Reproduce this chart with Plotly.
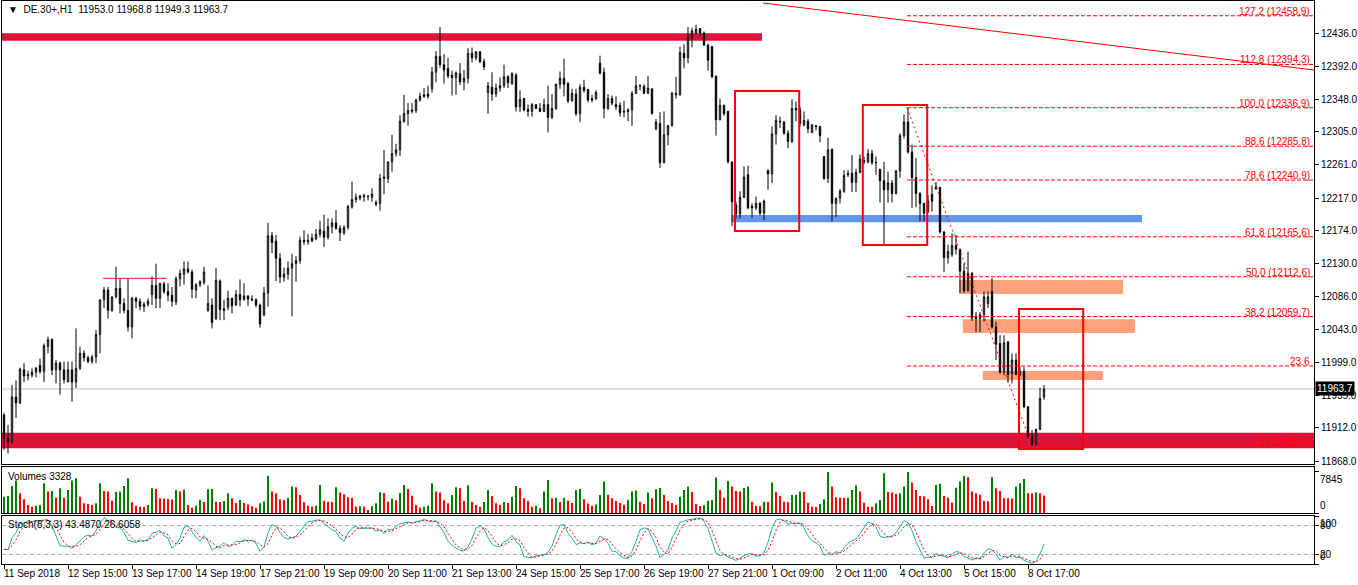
import numpy as np
import plotly.graph_objects as go
from plotly.subplots import make_subplots

# ---------------- data (DE.30+, H1, 11 Sep 13:00 .. 8 Oct 21:00, 14 bars/day) ----------------
opens = [11929, 11898, 11894, 11953, 11945, 11989, 11981, 11982, 11986,
         11995, 11987, 12020, 12029, 11989, 11998, 11989, 11973, 11989, 11973, 11991, 12011, 12005, 12000,
         12006, 12036, 12082, 12095, 12068, 12086, 12097, 12077, 12068, 12046, 12084, 12080, 12073, 12076,
         12089, 12101, 12084, 12103, 12093, 12088, 12079, 12110, 12116, 12123, 12119, 12095, 12102, 12105,
         12068, 12075, 12057, 12107, 12070, 12072, 12084, 12075, 12089, 12082, 12087, 12083, 12082, 12075,
         12062, 12091, 12167, 12160, 12137, 12112, 12116, 12124, 12130, 12134, 12161, 12159, 12160, 12163,
         12169, 12173, 12165, 12179, 12184, 12177, 12171, 12178, 12205, 12215, 12217, 12220, 12219, 12218,
         12211, 12210, 12243, 12243, 12265, 12276, 12281, 12318, 12329, 12332, 12333, 12347, 12354, 12355,
         12362, 12384, 12405, 12394, 12389, 12380, 12377, 12382, 12371, 12376, 12409, 12403, 12411, 12398,
         12357, 12364, 12355, 12363, 12366, 12378, 12369, 12380, 12338, 12349, 12335, 12332, 12341, 12336,
         12332, 12341, 12324, 12336, 12368, 12376, 12369, 12346, 12355, 12329, 12364, 12361, 12349, 12349,
         12396, 12384, 12336, 12349, 12341, 12340, 12331, 12334, 12334, 12356, 12366, 12365, 12356, 12362,
         12309, 12316, 12264, 12301, 12313, 12354, 12354, 12409, 12403, 12430, 12436, 12442, 12436, 12420,
         12418, 12379, 12321, 12340, 12332, 12265, 12208, 12196, 12218, 12248, 12206, 12204, 12210, 12197,
         12254, 12249, 12302, 12319, 12318, 12303, 12292, 12336, 12334, 12314, 12319, 12304, 12313, 12312,
         12272, 12243, 12282, 12210, 12217, 12226, 12248, 12250, 12238, 12251, 12267, 12265, 12276, 12264,
         12255, 12240, 12228, 12237, 12223, 12253, 12300, 12318, 12278, 12244, 12223, 12210, 12199, 12222,
         12229, 12231, 12172, 12138, 12142, 12154, 12149, 12120, 12094, 12117, 12060, 12057, 12062, 12077,
         12093, 12046, 12024, 11986, 12026, 11984, 12002, 11983, 11987, 11940, 11901, 11890, 11910, 11953.0]

highs = [11932, 11916, 11969, 11975, 11992, 11998, 11988, 11991, 11993,
         12004, 12024, 12033, 12031, 12002, 12000, 12000, 12000, 12000, 12044, 12020, 12015, 12008, 12009,
         12042, 12082, 12099, 12099, 12086, 12126, 12110, 12084, 12110, 12086, 12086, 12084, 12079, 12084,
         12113, 12130, 12104, 12106, 12104, 12099, 12113, 12122, 12133, 12133, 12122, 12104, 12108, 12126,
         12101, 12084, 12124, 12109, 12082, 12094, 12085, 12095, 12109, 12104, 12088, 12088, 12084, 12077,
         12099, 12184, 12172, 12168, 12144, 12125, 12133, 12143, 12140, 12166, 12174, 12169, 12170, 12176,
         12187, 12195, 12190, 12190, 12201, 12181, 12181, 12208, 12239, 12223, 12221, 12223, 12221, 12230,
         12214, 12249, 12281, 12265, 12301, 12289, 12327, 12354, 12343, 12343, 12349, 12357, 12363, 12366,
         12391, 12412, 12444, 12408, 12403, 12386, 12385, 12396, 12387, 12416, 12417, 12412, 12412, 12402,
         12371, 12384, 12369, 12377, 12394, 12380, 12384, 12383, 12360, 12350, 12341, 12343, 12341, 12343,
         12349, 12366, 12355, 12369, 12385, 12402, 12371, 12362, 12362, 12368, 12374, 12362, 12354, 12360,
         12406, 12390, 12355, 12353, 12352, 12344, 12346, 12336, 12359, 12379, 12368, 12368, 12379, 12362,
         12322, 12331, 12332, 12314, 12358, 12378, 12418, 12421, 12444, 12443, 12447, 12442, 12438, 12422,
         12418, 12379, 12349, 12341, 12333, 12265, 12212, 12226, 12259, 12260, 12210, 12219, 12212, 12215,
         12254, 12312, 12327, 12325, 12319, 12307, 12348, 12345, 12338, 12332, 12322, 12315, 12314, 12312,
         12272, 12297, 12282, 12217, 12229, 12254, 12254, 12274, 12256, 12275, 12272, 12282, 12281, 12272,
         12256, 12265, 12252, 12241, 12254, 12303, 12328, 12336.9, 12288, 12270, 12225, 12210, 12221, 12234,
         12238, 12232, 12173, 12155, 12170, 12168, 12149, 12130, 12146, 12119, 12066, 12066, 12093, 12093,
         12111, 12053, 12035, 12035, 12027, 12011, 12011, 11993, 11993, 11941, 11909, 11911, 11965, 11968.8]

lows = [11883, 11878, 11891, 11925, 11944, 11973, 11975, 11979, 11979,
        11984, 11973, 12011, 11982, 11971, 11956, 11971, 11973, 11947, 11965, 11989, 12000, 11998, 11997,
        11998, 12011, 12071, 12057, 12066, 12084, 12064, 12064, 12040, 12031, 12071, 12068, 12066, 12073,
        12075, 12071, 12071, 12090, 12080, 12073, 12075, 12100, 12102, 12117, 12084, 12084, 12099, 12102,
        12066, 12044, 12055, 12055, 12055, 12068, 12064, 12074, 12073, 12081, 12074, 12080, 12072, 12045,
        12060, 12073, 12144, 12107, 12104, 12106, 12109, 12060, 12106, 12130, 12155, 12155, 12159, 12161,
        12165, 12152, 12162, 12170, 12175, 12160, 12168, 12175, 12203, 12211, 12214, 12212, 12214, 12212,
        12206, 12200, 12222, 12237, 12252, 12272, 12273, 12318, 12313, 12329, 12330, 12345, 12350, 12349,
        12357, 12371, 12390, 12369, 12376, 12353, 12354, 12367, 12360, 12369, 12397, 12400, 12396, 12387,
        12329, 12346, 12351, 12358, 12363, 12363, 12367, 12332, 12331, 12332, 12325, 12325, 12335, 12331,
        12331, 12304, 12322, 12334, 12362, 12352, 12343, 12345, 12326, 12318, 12357, 12344, 12344, 12347,
        12381, 12323, 12334, 12340, 12334, 12325, 12324, 12319, 12313, 12355, 12360, 12355, 12355, 12328,
        12307, 12257, 12263, 12287, 12312, 12349, 12353, 12389, 12396, 12417, 12434, 12432, 12419, 12386,
        12376, 12300, 12320, 12326, 12263, 12180, 12190, 12190, 12217, 12202, 12191, 12201, 12194, 12188,
        12228, 12237, 12288, 12310, 12301, 12283, 12290, 12319, 12312, 12312, 12303, 12303, 12307, 12291,
        12241, 12237, 12186, 12192, 12210, 12224, 12245, 12225, 12225, 12250, 12262, 12263, 12261, 12248,
        12211, 12156, 12211, 12211, 12222, 12244, 12296, 12276, 12204, 12205, 12186, 12186, 12197, 12199,
        12228, 12170, 12119, 12130, 12139, 12142, 12091, 12091, 12093, 12054, 12039, 12039, 12053, 12071,
        12044, 12002, 11984, 11982, 11972, 11971, 11982, 11980, 11938, 11898, 11888.4, 11889, 11909, 11949.3]

closes = [11898, 11894, 11953, 11945, 11990, 11981, 11983, 11986, 11991,
          11987, 12021, 12029, 11989, 11998, 11989, 11976, 11989, 11973, 11991, 12011, 12005, 12000, 12006,
          12036, 12082, 12095, 12068, 12086, 12097, 12077, 12068, 12046, 12084, 12080, 12073, 12076, 12080,
          12101, 12084, 12104, 12093, 12088, 12080, 12110, 12117, 12123, 12119, 12096, 12102, 12106, 12119,
          12077, 12052, 12108, 12069, 12068, 12084, 12074, 12089, 12082, 12087, 12083, 12082, 12075, 12050,
          12091, 12167, 12158, 12137, 12112, 12116, 12124, 12130, 12134, 12161, 12159, 12161, 12164, 12169,
          12175, 12165, 12179, 12184, 12177, 12171, 12178, 12206, 12215, 12218, 12220, 12219, 12219, 12222,
          12209, 12243, 12245, 12265, 12276, 12281, 12319, 12329, 12333, 12334, 12347, 12352, 12352, 12352,
          12384, 12405, 12394, 12387, 12379, 12377, 12383, 12371, 12376, 12409, 12403, 12411, 12398, 12391,
          12366, 12355, 12363, 12366, 12378, 12370, 12382, 12338, 12348, 12334, 12332, 12341, 12336, 12332,
          12341, 12324, 12336, 12368, 12376, 12368, 12346, 12356, 12329, 12364, 12360, 12347, 12347, 12357,
          12383, 12336, 12349, 12343, 12338, 12330, 12332, 12332, 12356, 12366, 12366, 12356, 12363, 12329,
          12318, 12264, 12301, 12313, 12356, 12356, 12410, 12403, 12430, 12439, 12441, 12436, 12420, 12400,
          12378, 12321, 12340, 12329, 12265, 12212, 12196, 12218, 12245, 12204, 12204, 12210, 12197, 12213,
          12249, 12302, 12320, 12318, 12303, 12292, 12336, 12334, 12316, 12320, 12309, 12314, 12312, 12300,
          12243, 12281, 12210, 12217, 12226, 12247, 12250, 12238, 12251, 12269, 12265, 12276, 12264, 12264,
          12240, 12228, 12237, 12223, 12253, 12300, 12318, 12278, 12244, 12223, 12210, 12197, 12213, 12213,
          12232, 12172, 12138, 12146, 12154, 12149, 12120, 12094, 12117, 12058, 12057, 12062, 12086, 12086,
          12046, 12023, 11986, 12025, 11983, 12002, 11983, 11987, 11940, 11900, 11890, 11910, 11951, 11963.7]

volumes = [3120, 3250, 5170, 6190, 3760, 2610, 1530, 1210, 1400,
           1530, 5680, 4080, 4210, 2930, 4720, 2900, 4400, 6190, 6630, 3120, 1850, 1720, 1530,
           1850, 5680, 4210, 4080, 2360, 4020, 4100, 5170, 6630, 2040, 1400, 1210, 1150, 1530,
           4720, 4590, 2810, 2780, 2680, 2600, 4400, 4080, 4500, 1530, 1020, 1400, 2490, 2100,
           4530, 4600, 2170, 2100, 2300, 3760, 2810, 1900, 2490, 1900, 1600, 1300, 1020, 1850,
           2200, 7080, 4080, 3760, 2610, 2490, 2900, 5040, 4900, 3440, 2040, 1400, 1210, 1400,
           5360, 2360, 2170, 2100, 4910, 3890, 3570, 3000, 2900, 1250, 1300, 1200, 570, 1300,
           1850, 3950, 3800, 2170, 2780, 2420, 3800, 5360, 4600, 3300, 1530, 1020, 1210, 1400,
           5680, 4080, 3890, 2420, 1850, 3440, 4910, 4720, 2300, 5300, 2100, 1530, 1210, 2100,
           4400, 3250, 1850, 1530, 2100, 1900, 3120, 5170, 4720, 2810, 2300, 1210, 1400, 900,
           4100, 6310, 2810, 2900, 2100, 2900, 2400, 1900, 4400, 4590, 2610, 1800, 1400, 1600,
           3440, 6000, 3500, 2810, 2300, 1900, 1530, 2490, 4100, 4300, 2170, 1720, 3890, 2810,
           4530, 4780, 3440, 2300, 1900, 1530, 3120, 4400, 5040, 4020, 1720, 1340, 1500, 2360,
           2490, 6760, 4400, 2930, 6120, 5040, 4210, 4100, 4780, 5040, 2170, 1340, 1300, 2170,
           2100, 5800, 4020, 3250, 2170, 2100, 3440, 3500, 4080, 4020, 1980, 1210, 1150, 1720,
           2610, 7840, 5040, 3000, 2950, 2900, 2930, 4400, 5230, 4080, 1980, 1210, 1200, 1850,
           2490, 7590, 4020, 3890, 3640, 3760, 5040, 7845, 5800, 4400, 3250, 3200, 2610, 1340,
           5360, 5600, 3250, 2930, 2000, 4800, 6000, 7080, 6820, 4080, 3760, 3500, 2300, 2250,
           6820, 4720, 4200, 2810, 2800, 2750, 5040, 5680, 6500, 3760, 3700, 3890, 3760, 3328]

tick_bars = [0, 16, 32, 48, 64, 80, 96, 112, 128, 144, 160, 176, 192, 208, 224, 240, 256]
tick_labels = ["11 Sep 2018", "12 Sep 15:00", "13 Sep 17:00", "14 Sep 19:00", "17 Sep 21:00",
               "19 Sep 09:00", "20 Sep 11:00", "21 Sep 13:00", "24 Sep 15:00", "25 Sep 17:00",
               "26 Sep 19:00", "27 Sep 21:00", "1 Oct 09:00", "2 Oct 11:00", "4 Oct 13:00",
               "5 Oct 15:00", "8 Oct 17:00"]

price_ticks = [12436.0, 12392.0, 12348.0, 12305.0, 12261.0, 12217.0, 12174.0, 12130.0,
               12086.0, 12043.0, 11999.0, 11955.0, 11912.0, 11868.0]
volume_ticks = [7845, 0]
stoch_ticks = [100, 80, 20, 0]

fib_levels = ["127.2 (12458.9)", "112.8 (12394.3)", "100.0 (12336.9)", "88.6 (12285.8)",
              "78.6 (12240.9)", "61.8 (12165.6)", "50.0 (12112.6)", "38.2 (12059.7)",
              "23.6", "0.0 (11888.4)"]
fib_prices = [12458.9, 12394.3, 12336.9, 12285.8, 12240.9, 12165.6, 12112.6, 12059.7, 11994.2, 11888.4]

# ---------------- indicator: Stochastic(8,3,3) computed from the candles ----------------
H = np.array(highs, float); L = np.array(lows, float); C = np.array(closes, float)
n = len(C)
kp, slow, dp = 8, 3, 3
ll = np.array([L[max(0, i - kp + 1):i + 1].min() for i in range(n)])
hh = np.array([H[max(0, i - kp + 1):i + 1].max() for i in range(n)])
num = C - ll
den = hh - ll
stoch_k = np.array([100 * num[max(0, i - slow + 1):i + 1].sum() / max(den[max(0, i - slow + 1):i + 1].sum(), 1e-9)
                    for i in range(n)])
stoch_d = np.array([stoch_k[max(0, i - dp + 1):i + 1].mean() for i in range(n)])

bars = list(range(n))
vol_colors = ['#008000' if (i == 0 or volumes[i] > volumes[i - 1]) else '#FF0000' for i in range(n)]

# ---------------- figure ----------------
fig = make_subplots(rows=3, cols=1, shared_xaxes=True, vertical_spacing=0.0)

fig.add_trace(go.Candlestick(
    x=bars, open=opens, high=highs, low=lows, close=closes,
    increasing=dict(line=dict(color='black', width=1), fillcolor='white'),
    decreasing=dict(line=dict(color='black', width=1), fillcolor='black'),
    whiskerwidth=0, showlegend=False, hoverinfo='skip'), row=1, col=1)

fig.add_trace(go.Bar(x=bars, y=volumes, marker=dict(color=vol_colors, line=dict(width=0)),
                     width=0.25, showlegend=False, hoverinfo='skip'), row=2, col=1)

fig.add_trace(go.Scatter(x=bars, y=stoch_k, mode='lines', line=dict(color='#20B2AA', width=1),
                         showlegend=False, hoverinfo='skip'), row=3, col=1)
fig.add_trace(go.Scatter(x=bars, y=stoch_d, mode='lines', line=dict(color='#FF0000', width=1, dash='2px,2px'),
                         showlegend=False, hoverinfo='skip'), row=3, col=1)

FONT = 'Liberation Sans'
FS = 10
XR = [-0.5, 327.5]
PH = 564.0  # plot height in px (585 - t1 - b20)


def py(pix):
    return (565.0 - pix) / PH


ax_common = dict(showgrid=False, zeroline=False, showline=True, linecolor='black', linewidth=1, mirror=True)
for ax in ['xaxis', 'xaxis2', 'xaxis3']:
    fig.layout[ax].update(range=XR, showticklabels=False, rangeslider=dict(visible=False), **ax_common)
fig.layout.xaxis3.update(ticks='outside', ticklen=4, tickcolor='black', tickvals=tick_bars)

fig.layout.yaxis.update(domain=[py(464), 1.0], range=[11864.1, 12478.5], side='right',
                        tickvals=price_ticks, ticktext=[f"{v:.1f}" for v in price_ticks],
                        ticks='outside', ticklen=4, tickcolor='black', **ax_common)
fig.layout.yaxis2.update(domain=[py(513), py(467)], range=[0, 8780], side='right',
                         tickvals=volume_ticks, showticklabels=False,
                         ticks='outside', ticklen=4, tickcolor='black', **ax_common)
fig.layout.yaxis3.update(domain=[py(564), py(516)], range=[0, 100], side='right',
                         tickvals=stoch_ticks, showticklabels=False,
                         ticks='outside', ticklen=4, tickcolor='black', **ax_common)

fig.update_layout(width=1358, height=585, autosize=False,
                  margin=dict(l=2, r=44, t=1, b=20),
                  paper_bgcolor='white', plot_bgcolor='white', showlegend=False,
                  boxgap=0.5, hovermode=False,
                  font=dict(family=FONT, size=FS, color='black'))

shapes = []
# filled zones (behind candles)
shapes.append(dict(type='rect', xref='x', yref='y', x0=-0.5, x1=189.5, y0=12425.8, y1=12435.6,
                   fillcolor='#DC143C', line=dict(width=0), layer='below'))
shapes.append(dict(type='rect', xref='x', yref='y', x0=-0.5, x1=327.5, y0=11884.9, y1=11905.6,
                   fillcolor='#DC143C', line=dict(width=0), layer='below'))
shapes.append(dict(type='rect', xref='x', yref='y', x0=181.9, x1=284.5, y0=12184.8, y1=12194.5,
                   fillcolor='#6495ED', line=dict(width=0), layer='below'))
shapes.append(dict(type='rect', xref='x', yref='y', x0=238.8, x1=279.75, y0=12089.6, y1=12108.2,
                   fillcolor='#FFA07A', line=dict(width=0), layer='below'))
shapes.append(dict(type='rect', xref='x', yref='y', x0=239.7, x1=282.75, y0=12037.9, y1=12056.1,
                   fillcolor='#FFA07A', line=dict(width=0), layer='below'))
shapes.append(dict(type='rect', xref='x', yref='y', x0=244.7, x1=274.75, y0=11975.5, y1=11987.5,
                   fillcolor='#FFA07A', line=dict(width=0), layer='below'))
# current price line
shapes.append(dict(type='line', xref='x', yref='y', x0=-0.5, x1=327.5, y0=11963.7, y1=11963.7,
                   line=dict(color='#C0C0C0', width=1), layer='below'))
# small horizontal line (13 Sep)
shapes.append(dict(type='line', xref='x', yref='y', x0=24.8, x1=40.7, y0=12110.5, y1=12110.5,
                   line=dict(color='#DC143C', width=1)))
# red outline rectangles
for (a, b, c, d) in [(182.75, 198.8, 12173.3, 12359.0), (214.7, 230.8, 12154.7, 12340.5),
                     (253.75, 269.8, 11884.0, 12069.7)]:
    shapes.append(dict(type='rect', xref='x', yref='y', x0=a, x1=b, y0=c, y1=d,
                       fillcolor='rgba(0,0,0,0)', line=dict(color='#FF0000', width=2)))
# trend line
shapes.append(dict(type='line', xref='x', yref='y', x0=189.75, x1=327.5, y0=12475.8, y1=12386.9,
                   line=dict(color='#FF0000', width=1)))
# fibonacci levels
for p in fib_prices:
    shapes.append(dict(type='line', xref='x', yref='y', x0=225.75, x1=327.5, y0=p, y1=p,
                       line=dict(color='#FF0000', width=1, dash='4px,2px')))
shapes.append(dict(type='line', xref='x', yref='y', x0=225.75, x1=257.0, y0=12336.9, y1=11888.4,
                   line=dict(color='#FF0000', width=1, dash='2px,3px')))
# stochastic levels
for lv in [20, 80]:
    shapes.append(dict(type='line', xref='x3', yref='y3', x0=-0.5, x1=327.5, y0=lv, y1=lv,
                       line=dict(color='#A9A9A9', width=1, dash='4px,3px'), layer='below'))
fig.update_layout(shapes=shapes)

ann = []
ann.append(dict(xref='paper', yref='paper', x=0.003, y=py(10), xanchor='left', yanchor='middle',
                text='▼  DE.30+,H1  11953.0 11968.8 11949.3 11963.7', showarrow=False,
                font=dict(family=FONT, size=FS, color='black')))
ann.append(dict(xref='paper', yref='paper', x=0.003, y=py(476), xanchor='left', yanchor='middle',
                text='Volumes 3328', showarrow=False, font=dict(family=FONT, size=FS, color='black')))
ann.append(dict(xref='paper', yref='paper', x=0.003, y=py(524), xanchor='left', yanchor='middle',
                text='Stoch(8,3,3) 43.4870 26.6058', showarrow=False,
                font=dict(family=FONT, size=FS, color='black')))
for lab, p in zip(fib_levels, fib_prices):
    ann.append(dict(xref='paper', yref='y', x=1.0, y=p, xanchor='right', yanchor='bottom',
                    xshift=-2, yshift=-3, text=lab, showarrow=False,
                    font=dict(family=FONT, size=FS, color='#FF0000')))
ann.append(dict(xref='paper', yref='y', x=1.0, y=11963.7, xanchor='left', yanchor='middle',
                xshift=1, text='11963.7', showarrow=False, bgcolor='black', borderpad=1,
                font=dict(family=FONT, size=FS, color='white')))
# indicator scale labels drawn inside their pane like the terminal does
for v, anc in zip(volume_ticks, ['top', 'bottom']):
    ann.append(dict(xref='paper', yref='y2', x=1.0, y=v, xanchor='left', yanchor=anc, xshift=4,
                    text=str(v), showarrow=False, font=dict(family=FONT, size=FS, color='black')))
for v, anc in zip(stoch_ticks, ['top', 'middle', 'middle', 'bottom']):
    ann.append(dict(xref='paper', yref='y3', x=1.0, y=v, xanchor='left', yanchor=anc, xshift=4,
                    text=str(v), showarrow=False, font=dict(family=FONT, size=FS, color='black')))
for b, lab in zip(tick_bars, tick_labels):
    ann.append(dict(xref='x3', yref='paper', x=b - 0.5, y=py(573), xanchor='left', yanchor='middle',
                    text=lab, showarrow=False, font=dict(family=FONT, size=FS, color='black')))
fig.update_layout(annotations=ann)

fig.write_html("out.html", config={'displayModeBar': False},
               post_script="document.body.style.margin='0px';document.body.style.overflow='hidden';")
